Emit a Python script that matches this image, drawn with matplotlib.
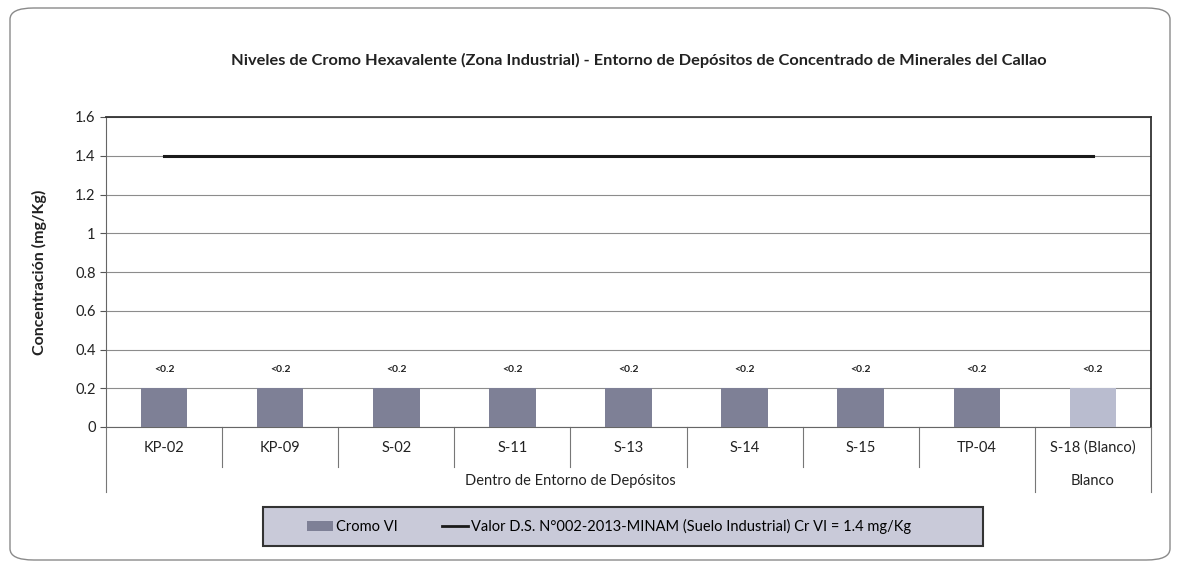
import matplotlib
matplotlib.use("Agg")
import matplotlib.pyplot as plt
from matplotlib.patches import FancyBboxPatch, Rectangle, Patch
from matplotlib.lines import Line2D
import matplotlib.transforms as mtransforms

plt.rcParams['font.family'] = ['Lato', 'DejaVu Sans']

categories = ["KP-02", "KP-09", "S-02", "S-11", "S-13", "S-14", "S-15", "TP-04", "S-18 (Blanco)"]
groups = ["Dentro de Entorno de Depósitos", "Blanco"]
group_sizes = [8, 1]
cromo_vi = [0.2, 0.2, 0.2, 0.2, 0.2, 0.2, 0.2, 0.2, 0.2]
bar_labels = ["<0.2"] * 9
limit_value = [1.4] * 9
yticks = [0, 0.2, 0.4, 0.6, 0.8, 1.0, 1.2, 1.4, 1.6]
ytick_labels = ["0", "0.2", "0.4", "0.6", "0.8", "1", "1.2", "1.4", "1.6"]

W, H = 1184, 566
fig = plt.figure(figsize=(W / 100, H / 100), dpi=100)
ax = fig.add_axes([106 / W, 1 - 427 / H, (1151 - 106) / W, (427 - 117) / H])

# outer chart frame
fig.patches.append(FancyBboxPatch((10 / W, 6 / H), (1170 - 10) / W, (558 - 6) / H,
                                  boxstyle="round,pad=0,rounding_size=0.02",
                                  transform=fig.transFigure, fill=False,
                                  edgecolor="#8a8a8a", linewidth=1.0))

x = list(range(len(categories)))
colors = ["#7e8096"] * 8 + ["#b9bccf"]
ax.bar(x, cromo_vi, width=0.4, color=colors, zorder=3)
ax.plot(x, limit_value, color="#1a1a1a", linewidth=2.2, zorder=4)

for xi, v, lab in zip(x, cromo_vi, bar_labels):
    ax.annotate(lab, (xi, v), xytext=(0, 10), textcoords="offset points",
                ha="center", va="bottom", fontsize=7.5, fontweight="bold", color="#222222")

ax.set_xlim(-0.5, len(categories) - 0.5)
ax.set_ylim(0, 1.6)
ax.set_yticks(yticks)
ax.set_yticklabels(ytick_labels, fontsize=10.5, color="#222222")
ax.yaxis.grid(True, color="#8c8c8c", linewidth=0.8, zorder=0)
ax.tick_params(axis="y", length=4, color="#555555")
ax.set_xticks([])
for s in ["top", "right"]:
    ax.spines[s].set_color("#333333")
    ax.spines[s].set_linewidth(1.3)
ax.spines["left"].set_color("#666666")
ax.spines["bottom"].set_color("#666666")

ax.set_ylabel("Concentración (mg/Kg)", fontsize=11.5, fontweight="bold", labelpad=20, color="#222222")

# hierarchical category axis
trans = mtransforms.blended_transform_factory(ax.transData, fig.transFigure)
y0 = 1 - 427 / H
y_cat_end = 1 - 467 / H
y_grp_end = 1 - 492 / H
for i, c in enumerate(categories):
    ax.text(i, 1 - 448 / H, c, transform=trans, ha="center", va="center", fontsize=10.5, color="#222222")
bounds = [-0.5]
for g in group_sizes:
    bounds.append(bounds[-1] + g)
group_edges = set(bounds)
for b in [i - 0.5 for i in range(len(categories) + 1)]:
    yend = y_grp_end if b in group_edges else y_cat_end
    ax.add_line(Line2D([b, b], [y0, yend], transform=trans, color="#777777",
                       linewidth=0.8, clip_on=False))
for gname, lo, hi in zip(groups, bounds[:-1], bounds[1:]):
    ax.text((lo + hi) / 2, 1 - 481 / H, gname, transform=trans, ha="center", va="center",
            fontsize=10.5, color="#222222")

fig.text(639 / W, 1 - 60 / H,
         "Niveles de Cromo Hexavalente (Zona Industrial) - Entorno de Depósitos de Concentrado de Minerales del Callao",
         ha="center", va="center", fontsize=11.8, fontweight="bold", color="#222222")

# legend box
fig.patches.append(Rectangle((263 / W, 1 - 546 / H), (983 - 263) / W, (546 - 507) / H,
                             transform=fig.transFigure, facecolor="#c9cad9",
                             edgecolor="#333333", linewidth=1.5))
handles = [Patch(facecolor="#7e8096", edgecolor="none"),
           Line2D([0], [0], color="#1a1a1a", linewidth=2.0)]
labels = ["Cromo VI", "Valor D.S. N°002-2013-MINAM (Suelo Industrial) Cr VI = 1.4 mg/Kg"]
fig.legend(handles, labels, loc="center", bbox_to_anchor=(609 / W, 1 - 526.5 / H), ncol=2,
           frameon=False, fontsize=10.5, handlelength=1.8, handletextpad=0.2,
           columnspacing=3.0)

fig.savefig("out.png", dpi=100)
